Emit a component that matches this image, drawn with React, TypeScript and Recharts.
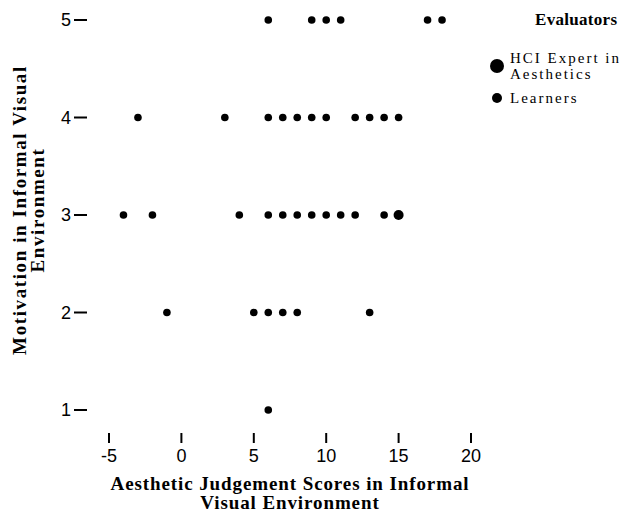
import { ScatterChart, Scatter, XAxis, YAxis } from "recharts";

// Learners' scores, one list per motivation level
const learnerX5 = [6, 9, 10, 11, 17, 18];
const learnerX4 = [-3, 3, 6, 7, 8, 9, 10, 12, 13, 14, 15];
const learnerX3 = [-4, -2, 4, 6, 7, 8, 9, 10, 11, 12, 14, 15];
const learnerX2 = [-1, 5, 6, 7, 8, 13];
const learnerX1 = [6];

const expertScores = [15];
const expertMotivation = [3];

const xTicks = [-5, 0, 5, 10, 15, 20];
const yTicks = [1, 2, 3, 4, 5];

const learners = [
  ...learnerX5.map((x) => ({ x, y: 5 })),
  ...learnerX4.map((x) => ({ x, y: 4 })),
  ...learnerX3.map((x) => ({ x, y: 3 })),
  ...learnerX2.map((x) => ({ x, y: 2 })),
  ...learnerX1.map((x) => ({ x, y: 1 })),
];
const experts = expertScores.map((x, i) => ({ x, y: expertMotivation[i] }));

const serif = "'Liberation Serif', 'DejaVu Serif', serif";
const sans = "'Liberation Sans', Arial, sans-serif";

const XTick = (props: any) => {
  const { x, payload } = props;
  return (
    <g>
      <line x1={x} x2={x} y1={433} y2={443} stroke="#000" strokeWidth={2} />
      <text x={x} y={462} textAnchor="middle" fontFamily={sans} fontSize={18} fill="#000">
        {payload.value}
      </text>
    </g>
  );
};

const YTick = (props: any) => {
  const { y, payload } = props;
  return (
    <g>
      <line x1={74} x2={87} y1={y} y2={y} stroke="#000" strokeWidth={2} />
      <text x={71} y={y + 6} textAnchor="end" fontFamily={sans} fontSize={18} fill="#000">
        {payload.value}
      </text>
    </g>
  );
};

const Dot = (r: number) => (props: any) =>
  <circle cx={props.cx} cy={props.cy} r={r} fill="#000" />;

const legendText = { position: "absolute" as const, fontSize: 15, letterSpacing: 2, lineHeight: "16px", whiteSpace: "nowrap" as const };

const LegendBox = () => (
  <div style={{ position: "absolute", left: 488, top: 0, width: 140, height: 120, fontFamily: serif, color: "#000" }}>
    <div style={{ position: "absolute", left: 47, top: 10, fontWeight: "bold", fontSize: 17, letterSpacing: 0.3 }}>Evaluators</div>
    <svg width={20} height={120} style={{ position: "absolute", left: 0, top: 0 }}>
      <circle cx={9} cy={66} r={7} fill="#000" />
      <circle cx={9} cy={98} r={5} fill="#000" />
    </svg>
    <div style={{ ...legendText, left: 22, top: 50 }}>
      HCI Expert in
      <br />
      Aesthetics
    </div>
    <div style={{ ...legendText, left: 22, top: 90 }}>Learners</div>
  </div>
);

export default function App() {
  return (
    <div style={{ width: 628, height: 524, background: "#fff", position: "relative", overflow: "hidden" }}>
      <style>{`body{margin:0}`}</style>
      <ScatterChart
        width={628}
        height={524}
        margin={{ top: 20, right: 157, bottom: 84, left: 49 }}
      >
        <XAxis
          type="number"
          dataKey="x"
          domain={[-5, 20]}
          ticks={xTicks}
          axisLine={false}
          tickLine={false}
          tick={<XTick />}
          height={30}
        />
        <YAxis
          type="number"
          dataKey="y"
          domain={[1, 5]}
          ticks={yTicks}
          axisLine={false}
          tickLine={false}
          tick={<YTick />}
          width={60}
        />
        <Scatter name="Learners" data={learners} shape={Dot(3.8)} isAnimationActive={false} />
        <Scatter name="HCI Expert in Aesthetics" data={experts} shape={Dot(5)} isAnimationActive={false} />
      </ScatterChart>
      <LegendBox />
      <div
        style={{
          position: "absolute",
          left: 60,
          top: 474,
          width: 460,
          textAlign: "center",
          fontFamily: serif,
          fontWeight: "bold",
          fontSize: 19,
          lineHeight: "19px",
          letterSpacing: 0.9,
        }}
      >
        Aesthetic Judgement Scores in Informal
        <br />
        Visual Environment
      </div>
      <div
        style={{
          position: "absolute",
          left: 29 - 180,
          top: 210 - 18,
          width: 360,
          textAlign: "center",
          fontFamily: serif,
          fontWeight: "bold",
          fontSize: 19,
          lineHeight: "18px",
          letterSpacing: 1.6,
          transform: "rotate(-90deg)",
        }}
      >
        Motivation in Informal Visual
        <br />
        Environment
      </div>
    </div>
  );
}
